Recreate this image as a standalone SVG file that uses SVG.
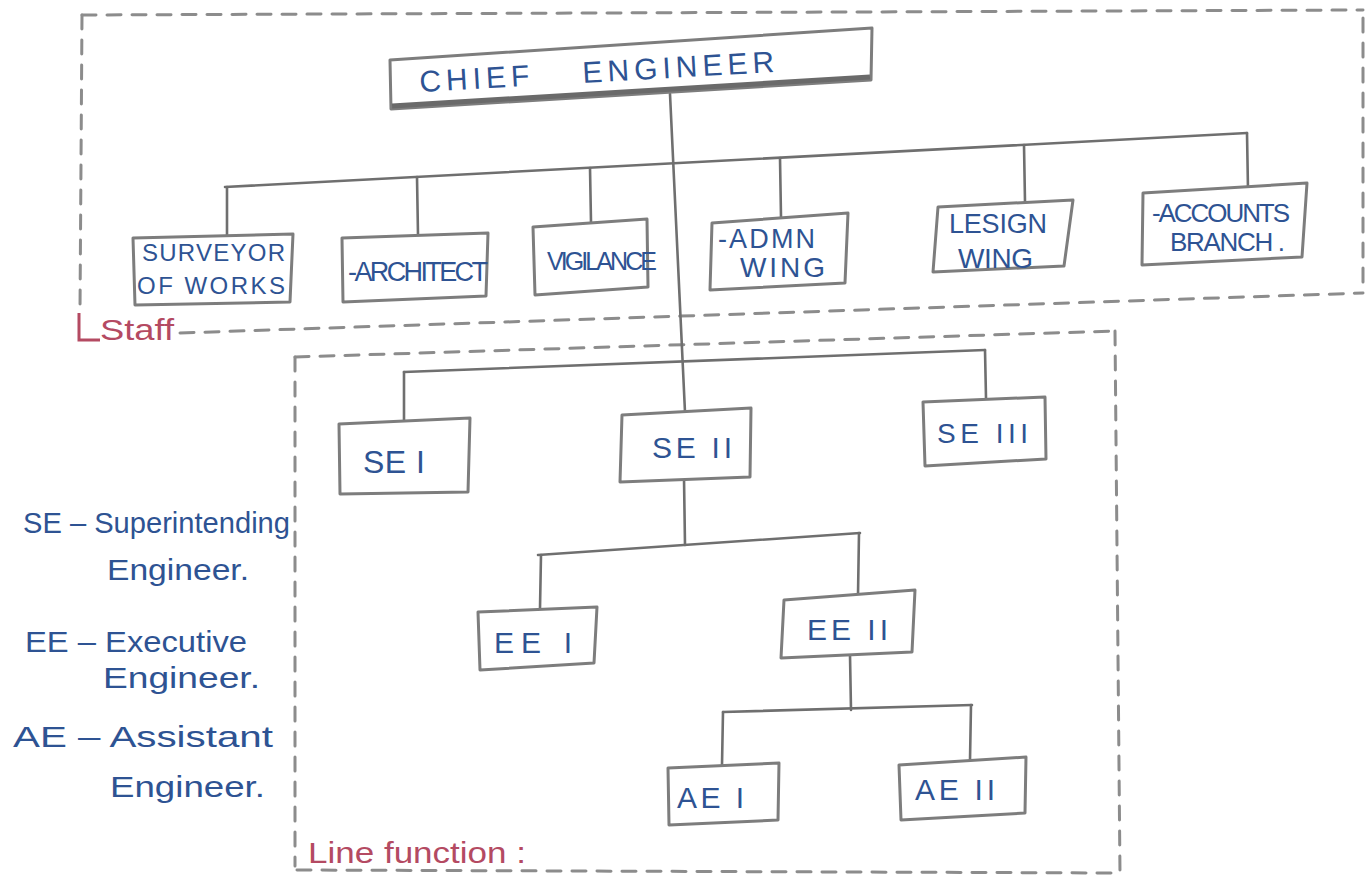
<svg xmlns="http://www.w3.org/2000/svg" width="1369" height="889" viewBox="0 0 1369 889">
<style>
.bg{fill:#ffffff}
.box{fill:#ffffff;stroke:#7d7d7d;stroke-width:3;stroke-linejoin:round}
.con{fill:none;stroke:#6f6f6f;stroke-width:2.6;stroke-linecap:round}
.dash{fill:none;stroke:#8c8c8c;stroke-width:3;stroke-dasharray:14 11;stroke-linecap:round}
.t{font-family:"Liberation Sans","DejaVu Sans",sans-serif;fill:#2e5393;lengthAdjust:spacingAndGlyphs}
.leg{font-family:"Liberation Sans","DejaVu Sans",sans-serif;fill:#2e5393;font-size:29px}
.lab{font-family:"Liberation Sans","DejaVu Sans",sans-serif;fill:#b44a62;font-size:30px}
</style>
<rect class="bg" x="0" y="0" width="1369" height="889"/>

<g id="boundaries">
  <path class="dash" d="M82,15 L1363,10"/>
  <path class="dash" d="M82,15 L80,310"/>
  <path class="dash" d="M1363,18 L1363,293"/>
  <path class="dash" d="M180,333 L1363,293"/>
  <path class="dash" d="M295,357 L1115,331"/>
  <path class="dash" d="M295,357 L295,866"/>
  <path class="dash" d="M1115,331 L1120,874"/>
  <path class="dash" d="M297,870 L1120,873"/>
</g>

<g id="connectors">
  <path class="con" d="M670,94 L685,412"/>
  <path class="con" d="M225,187 L1247,133"/>
  <path class="con" d="M227,187 L227,236"/>
  <path class="con" d="M417,177 L418,235"/>
  <path class="con" d="M590,168 L591,222"/>
  <path class="con" d="M780,158 L781,217"/>
  <path class="con" d="M1024,145 L1025,202"/>
  <path class="con" d="M1247,133 L1248,190"/>
  <path class="con" d="M404,372 L985,350"/>
  <path class="con" d="M404,372 L404,424"/>
  <path class="con" d="M985,350 L986,398"/>
  <path class="con" d="M684,478 L685,545"/>
  <path class="con" d="M538,555 L860,533"/>
  <path class="con" d="M541,555 L540,608"/>
  <path class="con" d="M859,533 L858,595"/>
  <path class="con" d="M850,655 L851,710"/>
  <path class="con" d="M723,712 L972,705"/>
  <path class="con" d="M723,712 L722,765"/>
  <path class="con" d="M971,705 L970,760"/>
</g>

<g id="chief-engineer">
  <polygon class="box" points="390,60 872,28 871,80 391,109"/>
  <path d="M392,106 L870,77" stroke="#6a6a6a" stroke-width="5" fill="none"/>
  <text class="t" x="420" y="92" font-size="30" textLength="110" transform="rotate(-3.3 420 92)">CHIEF</text>
  <text class="t" x="583" y="83" font-size="30" textLength="192" transform="rotate(-3.3 583 83)">ENGINEER</text>
</g>

<g id="surveyor-of-works">
  <polygon class="box" points="133,238 293,234 290,302 135,305"/>
  <text class="t" x="142" y="261" font-size="24" textLength="143">SURVEYOR</text>
  <text class="t" x="137" y="294" font-size="24" textLength="148">OF WORKS</text>
</g>

<g id="architect">
  <polygon class="box" points="342,238 488,233 486,296 343,302"/>
  <text class="t" x="348" y="281" font-size="27" textLength="140">-ARCHITECT</text>
</g>

<g id="vigilance">
  <polygon class="box" points="533,227 647,219 648,287 535,295"/>
  <text class="t" x="547" y="270" font-size="25" textLength="110">VIGILANCE</text>
</g>

<g id="admn-wing">
  <polygon class="box" points="712,223 848,213 845,283 710,290"/>
  <text class="t" x="718" y="248" font-size="27" textLength="97">-ADMN</text>
  <text class="t" x="740" y="277" font-size="28" textLength="85">WING</text>
</g>

<g id="design-wing">
  <polygon class="box" points="938,207 1073,200 1064,266 933,272"/>
  <text class="t" x="949" y="233" font-size="27" textLength="98">LESIGN</text>
  <text class="t" x="958" y="268" font-size="28" textLength="75">WING</text>
</g>

<g id="accounts-branch">
  <polygon class="box" points="1143,193 1307,183 1302,257 1142,265"/>
  <text class="t" x="1152" y="222" font-size="26" textLength="138">-ACCOUNTS</text>
  <text class="t" x="1170" y="251" font-size="26" textLength="115">BRANCH .</text>
</g>

<g id="se-1">
  <polygon class="box" points="339,424 470,418 468,492 340,494"/>
  <text class="t" x="363" y="473" font-size="32" textLength="62">SE I</text>
</g>

<g id="se-2">
  <polygon class="box" points="622,415 751,408 750,477 620,482"/>
  <text class="t" x="652" y="458" font-size="30" textLength="80">SE II</text>
</g>

<g id="se-3">
  <polygon class="box" points="923,402 1045,397 1046,459 925,466"/>
  <text class="t" x="937" y="443" font-size="28" textLength="91">SE III</text>
</g>

<g id="ee-1">
  <polygon class="box" points="478,612 597,607 594,663 480,670"/>
  <text class="t" x="494" y="653" font-size="30" textLength="78">EE I</text>
</g>

<g id="ee-2">
  <polygon class="box" points="784,600 915,590 912,652 781,658"/>
  <text class="t" x="807" y="640" font-size="30" textLength="81">EE II</text>
</g>

<g id="ae-1">
  <polygon class="box" points="668,768 779,763 778,820 669,825"/>
  <text class="t" x="677" y="808" font-size="30" textLength="67">AE I</text>
</g>

<g id="ae-2">
  <polygon class="box" points="899,765 1026,757 1025,813 901,820"/>
  <text class="t" x="915" y="800" font-size="30" textLength="80">AE II</text>
</g>

<g id="labels">
  <path d="M79,313 L79,340 L100,340" stroke="#b44a62" stroke-width="3" fill="none"/>
  <text class="lab" x="100" y="340" textLength="74" lengthAdjust="spacingAndGlyphs">Staff</text>
  <text class="lab" x="308" y="863" textLength="218" lengthAdjust="spacingAndGlyphs">Line function :</text>
</g>

<g id="legend">
  <text class="leg" x="23" y="533" textLength="267" lengthAdjust="spacingAndGlyphs">SE – Superintending</text>
  <text class="leg" x="107" y="580" textLength="142" lengthAdjust="spacingAndGlyphs">Engineer.</text>
  <text class="leg" x="25" y="652" textLength="222" lengthAdjust="spacingAndGlyphs">EE – Executive</text>
  <text class="leg" x="103" y="688" textLength="157" lengthAdjust="spacingAndGlyphs">Engineer.</text>
  <text class="leg" x="13" y="747" textLength="260" lengthAdjust="spacingAndGlyphs">AE – Assistant</text>
  <text class="leg" x="110" y="797" textLength="155" lengthAdjust="spacingAndGlyphs">Engineer.</text>
</g>
</svg>
